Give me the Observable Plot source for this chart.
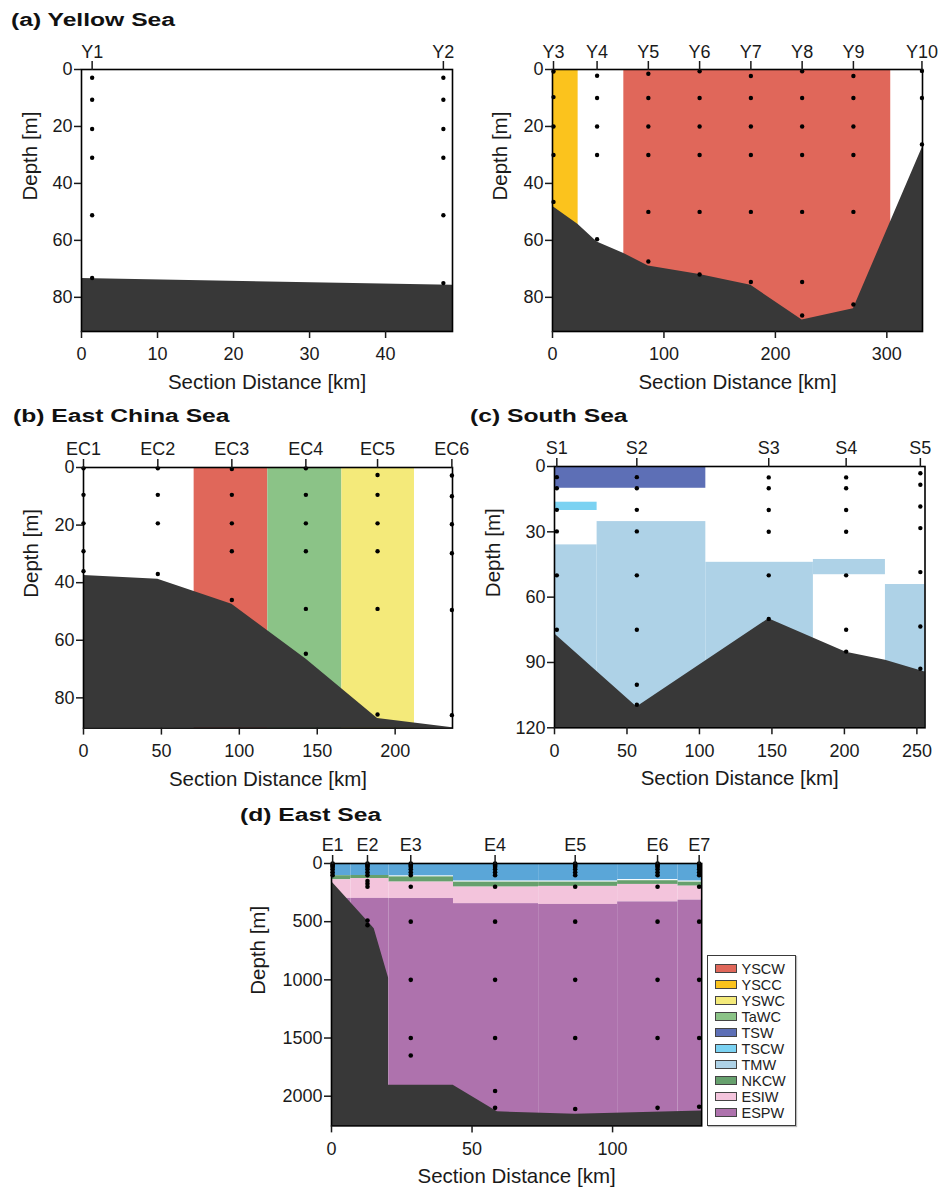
<!DOCTYPE html>
<html><head><meta charset="utf-8">
<script src="https://cdn.jsdelivr.net/npm/d3@7"></script>
<script src="https://cdn.jsdelivr.net/npm/@observablehq/plot@0.6"></script>
<style>
html,body{margin:0;padding:0;background:#fff;overflow:hidden}
#page{position:relative;width:943px;height:1192px;font-family:"Liberation Sans",Arial,sans-serif;color:#1a1a1a}
.title{position:absolute;font-weight:bold;font-size:18px;line-height:18px;transform:scaleX(1.37);transform-origin:0 0;white-space:nowrap;color:#111}
.legbox{position:absolute;border:1.5px solid #3a3a3a;box-sizing:border-box;background:#fff;box-shadow:1px 1px 1px #bbb}
.sw{position:absolute;width:22px;height:9px;box-sizing:border-box;border:1.2px solid #444}
.lt{position:absolute;font-size:14.5px;line-height:16px;color:#222;white-space:nowrap}
</style></head><body><div id="page"></div>
<script>
// ---------- colours of the water masses ----------
const massNames = ["YSCW","YSCC","YSWC","TaWC","TSW","TSCW","TMW","NKCW","ESIW","ESPW"];
const massColors = ["#e0675a","#fbc31d","#f4ea7a","#8bc387","#5d6fb6","#7bd2f2","#aed2e7","#66a06d","#f3c4dc","#ae72ad"];
const surfaceBlue = "#5aa6d8";
const seabedColor = "#383838";
const colorOf = new Map(massNames.map((n, i) => [n, massColors[i]]));
colorOf.set("surface", surfaceBlue);

// ---------- (a) Yellow Sea, left section ----------
const ylStations = ["Y1", "Y2"];
const ylStationKm = [1.4, 47.6];
const ylDotDepths = [[2.9, 10.6, 20.9, 31, 51.2, 73.2], [2.9, 10.6, 20.9, 31, 51.2, 75]];
const ylBedKm = [0, 48.8];
const ylBedDepth = [73.4, 75.8];

// ---------- (a) Yellow Sea, right section ----------
const yrStations = ["Y3", "Y4", "Y5", "Y6", "Y7", "Y8", "Y9", "Y10"];
const yrStationKm = [0.9, 40, 86, 132, 178, 224, 270, 331.5];
const yrDotDepths = [
  [0.7, 9.7, 20, 30, 46.5],
  [2.2, 10, 20, 30, 59.6],
  [1.5, 10, 20, 30, 50, 67.4],
  [0.6, 10, 20, 30, 50, 72],
  [2.3, 10, 20, 30, 50, 74.6],
  [0.6, 10, 20, 30, 50, 74.6, 86.4],
  [2.3, 10, 20, 30, 50, 82.5],
  [0.5, 10, 26.3]
];
const yrMassName = ["YSCC", "YSCW"];
const yrMassKm1 = [0, 64];
const yrMassKm2 = [23, 303.5];
const yrMassTop = [0, 0];
const yrMassBottom = [92, 92];
const yrBedKm = [0, 23, 40, 64, 86, 132, 178, 224, 270, 332];
const yrBedDepth = [48, 54.4, 60.6, 64.6, 69, 72, 75.8, 88, 84, 27.3];

// ---------- (b) East China Sea ----------
const ecStations = ["EC1", "EC2", "EC3", "EC4", "EC5", "EC6"];
const ecStationKm = [0, 47.7, 95.2, 142.7, 188.7, 236.4];
const ecDotDepths = [
  [0.3, 9.5, 19.4, 29.1, 36],
  [0.3, 9.5, 19.4, 37],
  [0.5, 9.5, 19.4, 29.1, 46],
  [0.3, 9.5, 19.4, 29.1, 49.1, 64.7],
  [2.6, 9.5, 19.4, 29.1, 49.1, 85.8],
  [2.8, 10, 19.7, 29.8, 49.5, 86]
];
const ecMassName = ["YSCW", "TaWC", "YSWC"];
const ecMassKm1 = [71, 118.3, 165.8];
const ecMassKm2 = [118.3, 165.8, 212.4];
const ecMassTop = [0, 0, 0];
const ecMassBottom = [90.5, 90.5, 90.5];
const ecBedKm = [0, 47.7, 95.2, 142.7, 188.7, 236.8];
const ecBedDepth = [37.5, 38.8, 47.5, 66.5, 87.2, 90.4];

// ---------- (c) South Sea ----------
const ssStations = ["S1", "S2", "S3", "S4", "S5"];
const ssStationKm = [1.6, 56.8, 147.8, 201.2, 252.4];
const ssDotDepths = [
  [4.9, 10, 19.9, 29.8, 50, 75],
  [4.9, 10, 19.9, 29.8, 50, 75, 100.2, 109.4],
  [5, 10, 20, 30, 50, 70],
  [5, 10, 20, 30, 50, 75, 85],
  [3.1, 8.4, 18.4, 28.3, 48.5, 73.5, 92.9]
];
const ssMassName = ["TSW", "TSCW", "TMW", "TMW", "TMW", "TMW", "TMW"];
const ssMassKm1 = [0, 0, 0, 29.4, 104.4, 178.6, 228.3];
const ssMassKm2 = [104.4, 29.4, 29.4, 104.4, 178.6, 228.3, 255.6];
const ssMassTop = [0, 16.4, 36, 25.3, 44, 42.7, 54.2];
const ssMassBottom = [10, 20.2, 120, 120, 120, 49.7, 120];
const ssBedKm = [0, 56.8, 147.8, 201.2, 228.3, 255.6];
const ssBedDepth = [76.8, 110.5, 69.9, 85.3, 89, 94.4];

// ---------- (d) East Sea ----------
const esStations = ["E1", "E2", "E3", "E4", "E5", "E6", "E7"];
const esStationKm = [0.4, 12.8, 28.2, 58.2, 86.7, 116, 130.8];
const esSurfaceDepths = [0, 10, 20, 30, 50, 75, 100];
const esDeepDepths = [
  [],
  [150, 175, 200, 490, 530],
  [200, 500, 1000, 1500, 1650],
  [200, 500, 1000, 1500, 1955, 2100],
  [200, 500, 1000, 1500, 2110],
  [200, 500, 1000, 1500, 2100],
  [200, 500, 1000, 1500, 2090]
];
const esSegKm1 = [0, 6.9, 20.5, 43.4, 73.7, 101.8, 123.3];
const esSegKm2 = [6.9, 20.5, 43.4, 73.7, 101.8, 123.3, 131.7];
const esSurfaceBottom = [105, 103, 106, 150, 150, 138, 150];
const esNkcwTop = [105, 103, 115, 160, 160, 148, 160];
const esNkcwBottom = [140, 129, 160, 203, 197, 180, 195];
const esEsiwBottom = [300, 300, 301, 345, 352, 330, 315];
const esDeepest = 2255;
const esBedKm = [0, 13, 15.2, 20.3, 20.3, 43.3, 59, 86.7, 131.7];
const esBedDepth = [155, 500, 560, 985, 1905, 1905, 2134, 2154, 2128];

// ---------- helpers ----------
const page = document.getElementById("page");
function dotsOf(km, depths) {
  return depths.flatMap((ds, i) => ds.map(d => ({km: km[i], depth: d})));
}
function bedOf(km, depth) { return km.map((k, i) => ({km: k, depth: depth[i]})); }
function massesOf(names, k1, k2, top, bottom) {
  return names.map((n, i) => ({mass: n, x1: k1[i], x2: k2[i], y1: top[i], y2: bottom[i]}));
}

function panel(o) {
  const ML = 81, MT = 65, MB = 70, MR = o.mr ?? 22;
  const nameAt = new Map(o.stationKm.map((k, i) => [k, o.stations[i]]));
  const yMax = o.yDomain[1];
  const svg = Plot.plot({
    width: (o.R - o.L) + ML + MR,
    height: (o.B - o.T) + MT + MB,
    marginLeft: ML, marginRight: MR, marginTop: MT, marginBottom: MB,
    style: {fontFamily: "'Liberation Sans', Arial, sans-serif", fontSize: "18px", color: "#1a1a1a", background: "transparent", overflow: "visible"},
    x: {domain: o.xDomain},
    y: {domain: o.yDomain, reverse: true},
    color: {type: "identity"},
    marks: [
      Plot.rect(o.masses, {x1: "x1", x2: "x2", y1: "y1", y2: "y2", fill: d => colorOf.get(d.mass)}),
      Plot.areaY(o.bed, {x: "km", y1: "depth", y2: () => yMax, fill: seabedColor, curve: "linear"}),
      Plot.dot(o.dots, {x: "km", y: "depth", r: o.r ?? 2.2, fill: "#000", stroke: null}),
      Plot.frame({stroke: "#000", strokeWidth: 1.6}),
      Plot.axisY({ticks: o.yTicks, tickSize: 7, tickPadding: 2, tickFormat: d => String(d), label: null, fontSize: 18, strokeWidth: 1.5}),
      Plot.axisX({ticks: o.xTicks, anchor: "bottom", tickSize: 7, tickPadding: 9, tickFormat: d => String(d), label: null, fontSize: 18, strokeWidth: 1.5}),
      Plot.axisX({ticks: o.stationKm, anchor: "top", tickSize: 9, tickPadding: 3, tickFormat: d => nameAt.get(d), label: null, fontSize: 18, strokeWidth: 1.5}),
      Plot.text(["Section Distance [km]"], {text: d => d, frameAnchor: "bottom", dy: 51, lineAnchor: "middle", fontSize: 20.5, fill: "#1a1a1a"}),
      Plot.text(["Depth [m]"], {text: d => d, frameAnchor: "left", dx: o.ylabelDx, rotate: -90, lineAnchor: "middle", fontSize: 20.5, fill: "#1a1a1a"})
    ]
  });
  svg.style.position = "absolute";
  svg.style.left = (o.L - ML) + "px";
  svg.style.top = (o.T - MT) + "px";
  svg.style.maxWidth = "none";
  page.append(svg);
}

function title(text, left, top) {
  const d = document.createElement("div");
  d.className = "title";
  d.textContent = text;
  d.style.left = left + "px";
  d.style.top = top + "px";
  page.append(d);
}

// ---------- panels ----------
panel({L: 81, R: 452, T: 69, B: 331, xDomain: [0, 48.8], yDomain: [0, 92],
  xTicks: [0, 10, 20, 30, 40], yTicks: [0, 20, 40, 60, 80], ylabelDx: -51,
  stations: ylStations, stationKm: ylStationKm, dots: dotsOf(ylStationKm, ylDotDepths),
  masses: [], bed: bedOf(ylBedKm, ylBedDepth)});

panel({L: 552.3, R: 922.3, T: 69, B: 331, mr: 19, xDomain: [0, 332], yDomain: [0, 92],
  xTicks: [0, 100, 200, 300], yTicks: [0, 20, 40, 60, 80], ylabelDx: -52,
  stations: yrStations, stationKm: yrStationKm, dots: dotsOf(yrStationKm, yrDotDepths),
  masses: massesOf(yrMassName, yrMassKm1, yrMassKm2, yrMassTop, yrMassBottom), bed: bedOf(yrBedKm, yrBedDepth)});

panel({L: 83.3, R: 452.3, T: 466.7, B: 727.3, xDomain: [0, 236.8], yDomain: [0, 90.5],
  xTicks: [0, 50, 100, 150, 200], yTicks: [0, 20, 40, 60, 80], ylabelDx: -51.6,
  stations: ecStations, stationKm: ecStationKm, dots: dotsOf(ecStationKm, ecDotDepths),
  masses: massesOf(ecMassName, ecMassKm1, ecMassKm2, ecMassTop, ecMassBottom), bed: bedOf(ecBedKm, ecBedDepth)});

panel({L: 553.5, R: 924, T: 466, B: 727.3, mr: 18, xDomain: [0, 255.6], yDomain: [0, 120],
  xTicks: [0, 50, 100, 150, 200, 250], yTicks: [0, 30, 60, 90, 120], ylabelDx: -61,
  stations: ssStations, stationKm: ssStationKm, dots: dotsOf(ssStationKm, ssDotDepths),
  masses: massesOf(ssMassName, ssMassKm1, ssMassKm2, ssMassTop, ssMassBottom), bed: bedOf(ssBedKm, ssBedDepth)});

const esMasses = [];
esSegKm1.forEach((k1, i) => {
  const k2 = esSegKm2[i];
  esMasses.push({mass: "surface", x1: k1, x2: k2, y1: 0, y2: esSurfaceBottom[i]});
  esMasses.push({mass: "NKCW", x1: k1, x2: k2, y1: esNkcwTop[i], y2: esNkcwBottom[i]});
  esMasses.push({mass: "ESIW", x1: k1, x2: k2, y1: esNkcwBottom[i], y2: esEsiwBottom[i]});
  esMasses.push({mass: "ESPW", x1: k1, x2: k2, y1: esEsiwBottom[i], y2: esDeepest});
});
const esDots = dotsOf(esStationKm, esStationKm.map((k, i) => esSurfaceDepths.concat(esDeepDepths[i])));
panel({L: 330.5, R: 700.7, T: 863.3, B: 1125.7, xDomain: [0, 131.7], yDomain: [0, esDeepest],
  xTicks: [0, 50, 100], yTicks: [0, 500, 1000, 1500, 2000], ylabelDx: -73, r: 2.3,
  stations: esStations, stationKm: esStationKm, dots: esDots,
  masses: esMasses, bed: bedOf(esBedKm, esBedDepth)});

// ---------- titles ----------
title("(a) Yellow Sea", 11, 10.5);
title("(b) East China Sea", 12.5, 406.5);
title("(c) South Sea", 469.5, 406.8);
title("(d) East Sea", 240, 805.5);

// ---------- legend ----------
const lg = document.createElement("div");
lg.className = "legbox";
Object.assign(lg.style, {left: "706.7px", top: "955px", width: "89px", height: "171px"});
page.append(lg);
massNames.forEach((n, i) => {
  const cy = 968.3 + 16 * i;
  const sw = document.createElement("div");
  sw.className = "sw";
  Object.assign(sw.style, {left: "715px", top: (cy - 4.5) + "px", background: colorOf.get(n)});
  page.append(sw);
  const t = document.createElement("div");
  t.className = "lt";
  t.textContent = n;
  Object.assign(t.style, {left: "741.5px", top: (cy - 7.8) + "px"});
  page.append(t);
});
</script></body></html>
